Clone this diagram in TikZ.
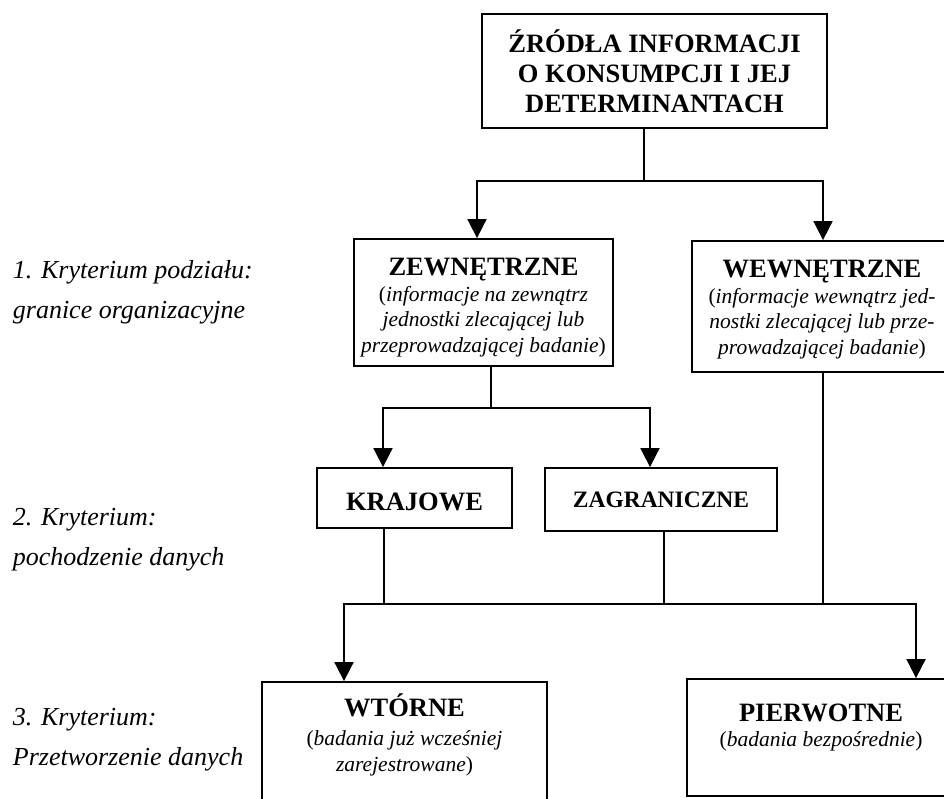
\documentclass[tikz,border=0pt]{standalone}
\usepackage{fontspec}
\setmainfont{Liberation Serif}
\usetikzlibrary{arrows.meta}
\newcommand{\headfont}{\fontsize{26.5}{30}\selectfont\bfseries}
\newcommand{\notefont}{\fontsize{21.5}{25.5}\selectfont}
\newcommand{\critfont}{\fontsize{26}{40}\selectfont\itshape}

\begin{document}
\begin{tikzpicture}[x=1pt,y=-1pt,line width=1.8pt,
  box/.style={draw,line width=1.8pt,align=center,inner sep=0pt,font=\notefont},
  crit/.style={anchor=west,align=left,inner sep=0pt,font=\critfont},
  arr/.style={-{Triangle[width=19pt,length=19pt]}}]
  \useasboundingbox (0,0) rectangle (944,799);

  \path (654.5,71) node[box,minimum width=345pt,minimum height=114pt,font=\headfont] (src)
      {ŹRÓDŁA INFORMACJI\\O KONSUMPCJI I JEJ\\DETERMINANTACH}
    (483.5,302.5) node[box,minimum width=259pt,minimum height=127pt] (zew)
      {{\headfont\rule{0pt}{27.5pt}ZEWNĘTRZNE}\\(\textit{informacje na zewnątrz}\\\textit{jednostki zlecającej lub}\\\textit{przeprowadzającej badanie})}
    (822,306.5) node[box,minimum width=260pt,minimum height=131pt] (wew)
      {{\headfont\rule{0pt}{23.5pt}WEWNĘTRZNE}\\(\textit{informacje wewnątrz jed-}\\\textit{nostki zlecającej lub prze-}\\\textit{prowadzającej badanie})}
    (414.5,498) node[box,minimum width=195pt,minimum height=60pt,font=\headfont,
        text height=25.5pt,text depth=0pt] (kra) {KRAJOWE}
    (661,499.5) node[box,minimum width=232pt,minimum height=63pt,font=\fontsize{23.5}{28}\selectfont\bfseries,
        text height=15.5pt,text depth=0pt] (zag) {ZAGRANICZNE}
    (404.5,742) node[box,minimum width=285pt,minimum height=120pt] (wto)
      {{\headfont WTÓRNE}\\[4pt](\textit{badania już wcześniej}\\\textit{zarejestrowane})\rule[-19pt]{0pt}{19pt}}
    (821,737.5) node[box,minimum width=268pt,minimum height=117pt] (pie)
      {{\headfont PIERWOTNE}\\(\textit{badania bezpośrednie})\rule[-25pt]{0pt}{25pt}};

  \node[crit] (crit1) at (12,292) {1. Kryterium podziału:\\granice organizacyjne};
  \node[crit] (crit2) at (12,540) {2. Kryterium:\\pochodzenie danych};
  \node[crit] (crit3) at (12,740) {3. Kryterium:\\Przetworzenie danych};

  % rozgalezienia
  \coordinate (t0) at (644,181);
  \coordinate (a1) at (477,0);
  \coordinate (a2) at (823,0);
  \coordinate (t1) at (491,408);
  \coordinate (b1) at (383,0);
  \coordinate (b2) at (650,0);
  \coordinate (c1) at (384,604);
  \coordinate (c2) at (664,604);
  \coordinate (c3) at (823,604);
  \coordinate (d1) at (344,0);
  \coordinate (d2) at (916,0);

  \draw (src.south -| t0) -- (t0);
  \draw[arr] (t0) -| (zew.north -| a1);
  \draw[arr] (t0) -| (wew.north -| a2);

  \draw (zew.south -| t1) -- (t1);
  \draw[arr] (t1) -| (kra.north -| b1);
  \draw[arr] (t1) -| (zag.north -| b2);

  \draw (kra.south -| c1) -- (c1);
  \draw (zag.south -| c2) -- (c2);
  \draw (wew.south -| c3) -- (c3);
  \draw (c1) -- (c3);
  \draw[arr] (c1) -| (wto.north -| d1);
  \draw[arr] (c3) -| (pie.north -| d2);
\end{tikzpicture}
\end{document}
